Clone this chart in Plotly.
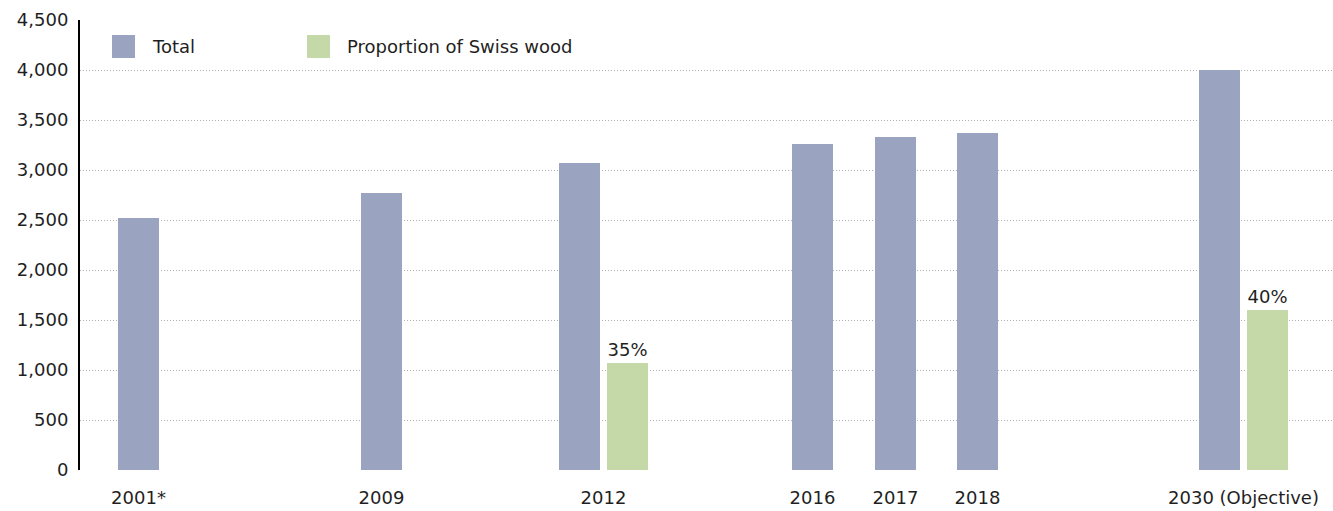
import plotly.graph_objects as go

# ---- data ----
categories = ["2001*", "2009", "2012", "2016", "2017", "2018", "2030 (Objective)"]
total = [2520, 2770, 3070, 3260, 3330, 3370, 4000]
swiss_wood = [None, None, 1070, None, None, None, 1600]
swiss_labels = ["", "", "35%", "", "", "", "40%"]

# ---- layout positions (plot-width units) ----
slot_centers = [58.5, 301.5, 523.5, 732.5, 815.5, 897.5, 1163.5]
BAR_W = 41
HALF_OFF = 24
GRAY = "#9aa3bf"
GREEN = "#c5d9a8"
FONT = "DejaVu Sans, sans-serif"
TXT = "#1f1f1f"

total_x = [c - HALF_OFF if s is not None else c for c, s in zip(slot_centers, swiss_wood)]
sw_x = [c + HALF_OFF for c, s in zip(slot_centers, swiss_wood) if s is not None]
sw_y = [s for s in swiss_wood if s is not None]
sw_t = [t for t, s in zip(swiss_labels, swiss_wood) if s is not None]

fig = go.Figure()
fig.add_trace(go.Bar(x=total_x, y=total, width=BAR_W, name="Total",
                     marker=dict(color=GRAY, line=dict(width=0)), showlegend=False))
fig.add_trace(go.Bar(x=sw_x, y=sw_y, width=BAR_W, name="Proportion of Swiss wood",
                     marker=dict(color=GREEN, line=dict(width=0)),
                     text=sw_t, textposition="outside", cliponaxis=False,
                     textfont=dict(size=18, color=TXT, family=FONT), showlegend=False))

# custom legend
for x0, label, col in [(32, "Total", GRAY), (227, "Proportion of Swiss wood", GREEN)]:
    fig.add_shape(type="rect", xref="x", yref="y", x0=x0, x1=x0 + 23, y0=4120, y1=4350,
                  fillcolor=col, line=dict(width=0), layer="above")
    fig.add_annotation(x=x0 + 38, y=4235, xref="x", yref="y", text=label, showarrow=False,
                       xanchor="left", yanchor="middle", font=dict(size=18, color=TXT, family=FONT))

fig.update_layout(
    width=1333, height=511,
    margin=dict(l=80, r=0, t=20, b=41, autoexpand=False),
    paper_bgcolor="white", plot_bgcolor="white",
    barmode="overlay",
    font=dict(family=FONT, size=18, color=TXT),
    xaxis=dict(range=[0, 1253], tickmode="array", tickvals=slot_centers, ticktext=categories,
               showgrid=False, zeroline=False, showline=False, ticks="", automargin=False,
               ticklabelstandoff=15, tickfont=dict(size=18, color=TXT, family=FONT)),
    yaxis=dict(range=[0, 4500], dtick=500, tickformat=",", showgrid=True, automargin=False,
               gridcolor="#b0b0b0", griddash="1px,2px", gridwidth=1, zeroline=False,
               showline=True, linecolor="black", linewidth=2, ticks="",
               ticklabelstandoff=6, tickfont=dict(size=18, color=TXT, family=FONT)),
)

fig.write_html("out.html", config={"displayModeBar": False},
               post_script="document.body.style.margin='0';document.body.style.overflow='hidden';")
